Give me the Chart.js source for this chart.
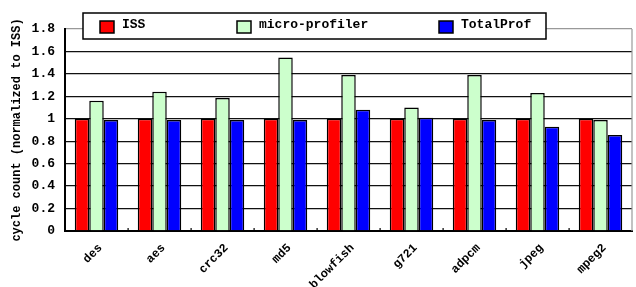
<!DOCTYPE html>
<html><head><meta charset="utf-8">
<script src="https://cdn.jsdelivr.net/npm/chart.js@4/dist/chart.umd.min.js"></script>
<style>html,body{margin:0;padding:0;background:#fff;}canvas{display:block;}</style>
</head><body>
<canvas id="c" width="636" height="287"></canvas>
<script>
const categories = ["des","aes","crc32","md5","blowfish","g721","adpcm","jpeg","mpeg2"];
const seriesNames = ["ISS","micro-profiler","TotalProf"];
const issValues = [1,1,1,1,1,1,1,1,1];
const microProfilerValues = [1.16,1.24,1.185,1.545,1.39,1.10,1.39,1.23,0.99];
const totalProfValues = [0.99,0.99,0.99,0.99,1.08,1.01,0.99,0.93,0.855];
const yTicksMin = 0, yTicksMax = 1.8, yTickStep = 0.2;
const yTitle = "cycle count (normalized to ISS)";

const FONT = "'Liberation Mono', 'DejaVu Sans Mono', monospace";

const legendPlugin = {
  id: 'boxLegend',
  afterDraw(chart) {
    const ctx = chart.ctx;
    ctx.save();
    const bx = 83, by = 13, bw = 463, bh = 26;
    ctx.fillStyle = '#fff';
    ctx.fillRect(bx, by, bw, bh);
    ctx.strokeStyle = '#000';
    ctx.lineWidth = 1.5;
    ctx.strokeRect(bx, by, bw, bh);
    const itemX = [100, 237, 439];
    ctx.font = "bold 13px " + FONT;
    ctx.textBaseline = 'middle';
    chart.data.datasets.forEach((ds, i) => {
      const x = itemX[i];
      ctx.fillStyle = ds.backgroundColor;
      ctx.fillRect(x, 21, 14, 12);
      ctx.strokeStyle = '#000';
      ctx.lineWidth = 1.5;
      ctx.strokeRect(x, 21, 14, 12);
      ctx.fillStyle = '#000';
      ctx.fillText(ds.label, x + 22, 25);
    });
    const xs = chart.scales.x;
    const a = chart.chartArea;
    ctx.fillStyle = '#000';
    for (let i = 1; i < categories.length; i++) {
      const px = (xs.getPixelForTick(i - 1) + xs.getPixelForTick(i)) / 2;
      ctx.fillRect(Math.round(px) - 0.5, a.bottom - 3, 1.2, 2);
    }
    ctx.restore();
  },
  beforeDatasetsDraw(chart) {
    const a = chart.chartArea;
    const ctx = chart.ctx;
    ctx.save();
    ctx.strokeStyle = '#999';
    ctx.lineWidth = 1.2;
    ctx.beginPath();
    ctx.moveTo(a.right, a.top);
    ctx.lineTo(a.right, a.bottom);
    ctx.stroke();
    ctx.restore();
  }
};

new Chart(document.getElementById('c'), {
  type: 'bar',
  data: {
    labels: categories,
    datasets: [
      {label: seriesNames[0], data: issValues, backgroundColor: '#ff0000'},
      {label: seriesNames[1], data: microProfilerValues, backgroundColor: '#ccffcc'},
      {label: seriesNames[2], data: totalProfValues, backgroundColor: '#0000ff'}
    ].map(d => Object.assign(d, {borderColor: '#000', borderWidth: 1.5, categoryPercentage: 0.69, barPercentage: 1.0}))
  },
  plugins: [legendPlugin],
  options: {
    responsive: false,
    animation: false,
    devicePixelRatio: 1,
    layout: {padding: {top: 29, right: 4, left: 0, bottom: 0}},
    plugins: {legend: {display: false}, tooltip: {enabled: false}},
    scales: {
      x: {
        grid: {display: false},
        border: {color: '#000', width: 2},
        ticks: {color: '#000', font: {family: FONT, weight: 'bold', size: 12}, maxRotation: 45, minRotation: 45, padding: 2, labelOffset: 4},
        afterFit(s) { s.height = 56; }
      },
      y: {
        min: yTicksMin, max: yTicksMax,
        grid: {
          drawTicks: false,
          color: c => (Math.abs(c.tick.value - yTicksMax) < 1e-6 ? '#999' : '#111'),
          lineWidth: 1.3
        },
        border: {color: '#000', width: 2},
        ticks: {
          stepSize: yTickStep, color: '#000', padding: 10,
          font: {family: FONT, weight: 'bold', size: 13},
          callback: v => String(Number(v.toFixed(1)))
        },
        title: {display: true, text: yTitle, color: '#000', font: {family: FONT, weight: 'bold', size: 12}, padding: {top: 10, bottom: 0}},
        afterFit(s) { s.width = 65; }
      }
    }
  }
});
</script>
</body></html>
